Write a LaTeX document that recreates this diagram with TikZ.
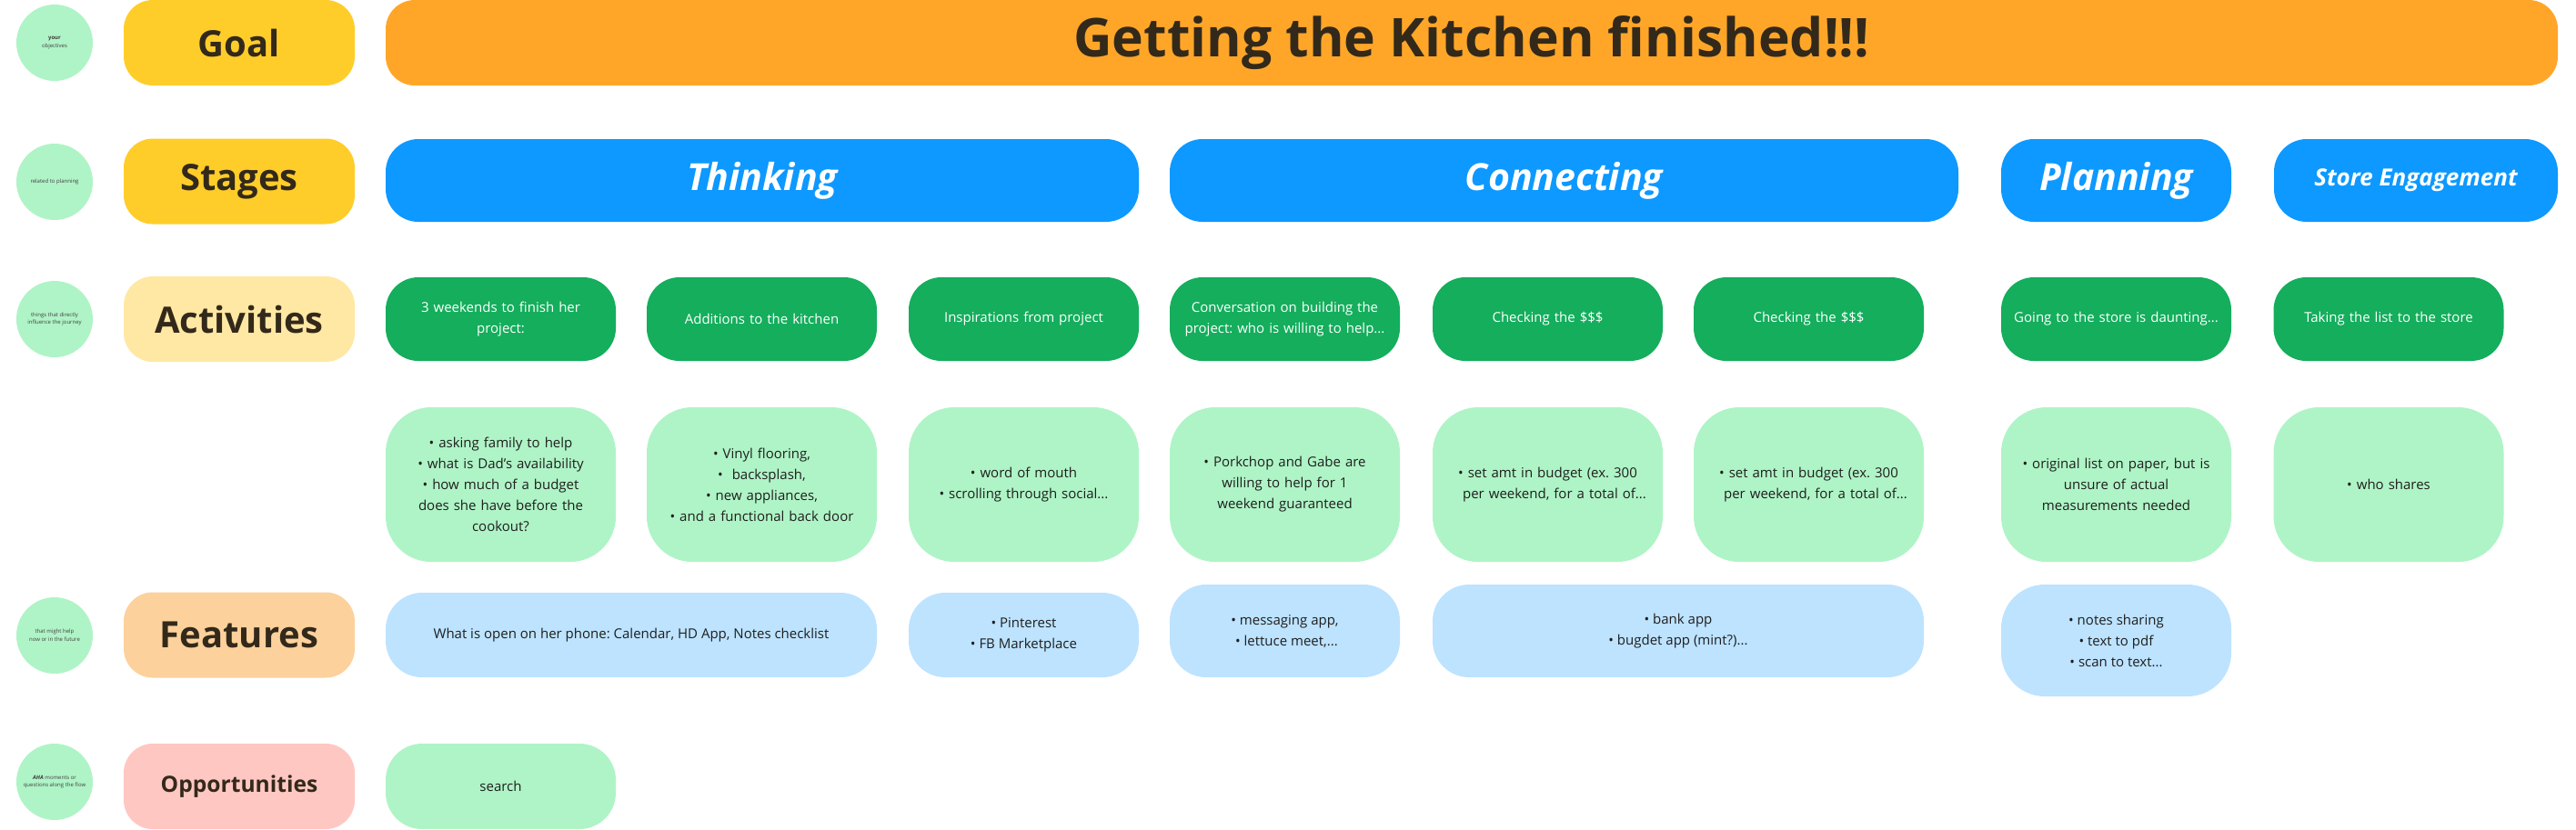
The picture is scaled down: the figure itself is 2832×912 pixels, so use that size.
\documentclass[tikz,border=0pt]{standalone}
\usepackage{fontspec}
\setmainfont{Open Sans}
\usepackage{tikz}
\frenchspacing

\definecolor{mint}{HTML}{AFF4C6}
\definecolor{gold}{HTML}{FFCD29}
\definecolor{paleGold}{HTML}{FFE8A3}
\definecolor{peach}{HTML}{FCD19C}
\definecolor{rose}{HTML}{FFC7C2}
\definecolor{amber}{HTML}{FFA629}
\definecolor{skyblue}{HTML}{0D99FF}
\definecolor{leaf}{HTML}{14AE5C}
\definecolor{iceblue}{HTML}{BDE3FF}
\definecolor{ink}{HTML}{33291A}
\definecolor{noteink}{HTML}{1E1E1E}

\begin{document}
\begin{tikzpicture}[x=0.5pt,y=-0.5pt,
        hint/.style={circle, fill=mint, minimum size=42pt, inner sep=0pt, align=center,
            text=noteink!85, font=\fontsize{3}{4.4}\selectfont},
        rowlabel/.style={rounded corners=16pt, minimum width=127pt, minimum height=47pt,
            inner sep=0pt, text=ink, font=\fontsize{20}{24}\selectfont\bfseries},
        stage/.style={fill=skyblue, rounded corners=18pt, minimum height=45.5pt, inner sep=0pt,
            text=white, font=\fontsize{20.5}{24}\selectfont\bfseries\itshape},
        activity/.style={fill=leaf, rounded corners=18pt, minimum width=126.5pt, minimum height=46pt,
            inner sep=0pt, text width=120pt, align=center, text=white, font=\fontsize{7.5}{11.5}\selectfont},
        detail/.style={fill=mint, rounded corners=25pt, minimum width=126.5pt, minimum height=85pt,
            inner sep=0pt, text width=120pt, align=center, text=noteink, font=\fontsize{7.5}{11.5}\selectfont},
        feature/.style={fill=iceblue, rounded corners=20pt, minimum height=46.5pt,
            inner sep=0pt, align=center, text=noteink, font=\fontsize{7.5}{11.5}\selectfont}]
    \useasboundingbox (0,0) rectangle (2832,912);

    % hints on the left
    \node [hint] (hintGoal) at (60,47) {\textbf{your}\\objectives};
    \node [hint] (hintStages) at (60,200) {related to planning};
    \node [hint] (hintActivities) at (60,351) {things that directly\\influence the journey};
    \node [hint] (hintFeatures) at (60,699) {that might help\\now or in the future};
    \node [hint] (hintOpps) at (60,860) {\textbf{\textit{AHA}} moments or\\questions along the flow};

    % row labels
    \node [rowlabel, fill=gold] (goal) at (263,47) {Goal};
    \node [rowlabel, fill=gold] (stages) at (263,199.5) {Stages};
    \node [rowlabel, fill=paleGold] (activities) at (263,351) {Activities};
    \node [rowlabel, fill=peach] (features) at (263,698.5) {Features};
    \node [rowlabel, fill=rose, font=\fontsize{12.3}{15}\selectfont\bfseries] (opps) at (263,865) {Opportunities};

    % goal
    \node [fill=amber, rounded corners=16pt, minimum width=1194pt, minimum height=47pt, inner sep=0pt,
        text=ink, font=\fontsize{29.4}{36}\selectfont\bfseries] (goalBar) at (1618,47) {Getting the Kitchen finished!!!};

    % stages
    \node [stage, minimum width=414pt] (thinking) at (838,198.5) {Thinking};
    \node [stage, minimum width=433.5pt] (connecting) at (1719.5,198.5) {Connecting};
    \node [stage, minimum width=126.5pt] (planning) at (2326.5,198.5) {Planning};
    \node [stage, minimum width=156pt, font=\fontsize{13}{16}\selectfont\bfseries\itshape] (store) at (2656,198.5) {Store Engagement};

    % activities
    \node [activity] (actWeekends) at (550.5,351) {3 weekends to finish her\\project:};
    \node [activity] (actAdditions) at (837.5,351) {Additions to the kitchen};
    \node [activity] (actInspiration) at (1125.5,351) {Inspirations from project};
    \node [activity] (actConversation) at (1412.5,351) {Conversation on building the\\project: who is willing to help...};
    \node [activity] (actMoneyA) at (1701.5,351) {Checking the \$\$\$};
    \node [activity] (actMoneyB) at (1988.5,351) {Checking the \$\$\$};
    \node [activity] (actStore) at (2326.5,351) {Going to the store is daunting...};
    \node [activity] (actList) at (2626,351) {Taking the list to the store};

    % details under the activities
    \node [detail] (detWeekends) at (550.5,533) {\textbullet\ asking family to help\\\textbullet\ what is Dad’s availability\\\textbullet\ how much of a budget\\does she have before the\\cookout?};
    \node [detail] (detAdditions) at (837.5,533) {\textbullet\ Vinyl flooring,\\\textbullet\ \ backsplash,\\\textbullet\ new appliances,\\\textbullet\ and a functional back door};
    \node [detail] (detInspiration) at (1125.5,533) {\textbullet\ word of mouth\\\textbullet\ scrolling through social...};
    \node [detail] (detConversation) at (1412.5,533) {\textbullet\ Porkchop and Gabe are\\willing to help for 1\\weekend guaranteed};
    \node [detail] (detMoneyA) at (1701.5,533) {\textbullet\ set amt in budget (ex. 300\\\ \ \ per weekend, for a total of...};
    \node [detail] (detMoneyB) at (1988.5,533) {\textbullet\ set amt in budget (ex. 300\\\ \ \ per weekend, for a total of...};
    \node [detail] (detStore) at (2326.5,533) {\textbullet\ original list on paper, but is\\unsure of actual\\measurements needed};
    \node [detail] (detList) at (2626,533) {\textbullet\ who shares};

    % features
    \node [feature, minimum width=270pt] (featPhone) at (694,698.5) {What is open on her phone: Calendar, HD App, Notes checklist};
    \node [feature, minimum width=126.5pt] (featPins) at (1125.5,698.5) {\textbullet\ Pinterest\\\textbullet\ FB Marketplace};
    \node [feature, minimum width=126.5pt, minimum height=51pt] (featChat) at (1412.5,694) {\textbullet\ messaging app,\\\ \textbullet\ lettuce meet,...};
    \node [feature, minimum width=270pt, minimum height=51pt] (featBank) at (1845,694) {\textbullet\ bank app\\\textbullet\ bugdet app (mint?)...};
    \node [feature, minimum width=126.5pt, minimum height=61.5pt, rounded corners=24pt] (featNotes) at (2326.5,704.5) {\textbullet\ notes sharing\\\textbullet\ text to pdf\\\textbullet\ scan to text...};

    % opportunities
    \node [detail, minimum height=47pt, rounded corners=20pt] (oppSearch) at (550.5,865) {search};
\end{tikzpicture}
\end{document}
